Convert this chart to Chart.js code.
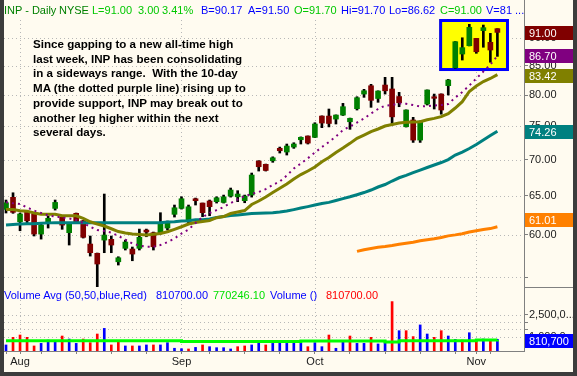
<!DOCTYPE html>
<html>
<head>
<meta charset="utf-8">
<script src="https://cdn.jsdelivr.net/npm/chart.js@4.4.0/dist/chart.umd.min.js"></script>
<style>
  html, body { margin: 0; padding: 0; background: #3c3c3c; }
  #wrap { position: relative; width: 577px; height: 376px; overflow: hidden; }
  #c { position: absolute; left: 0; top: 0; }
  .t { position: absolute; font-family: "Liberation Sans", Arial, sans-serif; font-size: 11px; line-height: 13px; white-space: pre; }
  #note { position: absolute; left: 33px; top: 37px; font: bold 11.6px "Liberation Sans", Arial, sans-serif; line-height: 14.7px; color: #000; white-space: pre; }
  .dg { color: #008000; } .lg { color: #00c800; } .bl { color: #0000ff; } .rd { color: #ff0000; } .gr { color: #00e000; }
</style>
</head>
<body>
<div id="wrap">
  <canvas id="c" width="577" height="376"></canvas>
  <!-- header line -->
  <span class="t dg" style="left:4px;top:4px">INP - Daily</span>
  <span class="t dg" style="left:59px;top:4px">NYSE</span>
  <span class="t lg" style="left:92px;top:4px">L=91.00</span>
  <span class="t lg" style="left:138px;top:4px">3.00</span>
  <span class="t lg" style="left:162px;top:4px">3.41%</span>
  <span class="t bl" style="left:201px;top:4px">B=90.17</span>
  <span class="t bl" style="left:248px;top:4px">A=91.50</span>
  <span class="t lg" style="left:294px;top:4px">O=91.70</span>
  <span class="t bl" style="left:341px;top:4px">Hi=91.70</span>
  <span class="t bl" style="left:389px;top:4px">Lo=86.62</span>
  <span class="t lg" style="left:440px;top:4px">C=91.00</span>
  <span class="t bl" style="left:486px;top:4px">V=81 ...</span>
  <!-- comment text -->
  <div id="note">Since gapping to a new all-time high
last week, INP has been consolidating
in a sideways range.  With the 10-day
MA (the dotted purple line) rising up to
provide support, INP may break out to
another leg higher within the next
several days.</div>
  <!-- volume legend -->
  <span class="t bl" style="left:4px;top:289px">Volume Avg (50,50,blue,Red)</span>
  <span class="t bl" style="left:156px;top:289px">810700.00</span>
  <span class="t gr" style="left:213px;top:289px">770246.10</span>
  <span class="t bl" style="left:270px;top:289px">Volume ()</span>
  <span class="t rd" style="left:326px;top:289px">810700.00</span>
</div>
<script>
// daily bars, 30 Jul .. 6 Nov
const opens  = [63.23,64.82,61.64,62.92,62.63,60.10,61.44,63.36,62.21,60.27,62.72,61.77,58.88,57.77,59.36,59.45,56.77,58.36,58.28,58.36,
                60.60,60.27,60.27,60.85,62.59,63.36,61.64,64.63,64.06,64.33,64.24,64.14,64.99,64.89,64.37,65.12,69.84,69.37,69.88,71.69,
                71.15,71.88,72.97,73.53,73.33,76.61,76.61,76.14,76.77,75.72,77.78,80.16,81.54,79.43,81.66,81.00,79.75,74.95,75.99,72.92,
                78.53,79.72,80.16,81.55,84.62,87.04,88.54,89.89,91.33,89.16,91.70];
const highs  = [64.46,65.43,62.76,62.92,62.76,61.48,62.37,64.46,62.24,61.40,62.76,61.80,59.86,57.80,65.26,59.86,57.36,59.36,58.52,60.72,
                60.72,60.35,62.80,61.73,63.80,64.89,63.80,64.72,64.06,64.46,64.89,65.12,66.07,65.71,65.12,68.14,69.90,69.41,70.45,71.88,
                72.33,72.52,73.40,73.55,75.57,76.65,77.73,76.80,78.64,76.30,79.72,80.94,81.78,80.70,82.97,82.97,80.44,77.60,76.41,75.85,
                80.85,80.16,80.20,82.62,89.30,90.00,92.52,89.90,92.39,90.82,91.70];
const lows   = [62.76,62.72,60.51,61.44,59.86,59.48,60.85,63.14,60.69,58.76,61.60,59.61,57.44,53.93,57.84,57.84,56.39,58.16,56.89,58.16,
                59.77,58.16,60.10,60.60,62.24,63.27,61.48,63.80,62.28,62.41,64.06,64.06,64.85,64.24,64.10,64.85,68.42,68.42,69.66,71.00,
                70.71,71.69,72.33,72.33,73.30,74.80,74.92,75.37,76.70,74.55,77.57,79.62,78.00,78.81,80.16,75.21,78.10,74.90,72.57,72.57,
                78.37,77.73,76.90,80.00,84.50,85.97,88.50,87.17,88.26,85.58,86.62];
const closes = [64.10,62.85,62.63,61.77,60.10,61.22,62.08,64.14,61.22,61.35,61.64,59.70,57.84,56.51,59.98,58.76,57.24,59.12,57.68,59.70,
                60.35,58.55,61.48,61.50,63.44,64.63,63.57,64.37,62.80,63.58,64.76,64.89,65.80,65.26,64.99,67.86,69.03,68.50,70.31,71.34,
                72.03,72.33,73.33,72.47,75.37,75.52,75.45,76.77,78.10,76.25,79.56,80.71,79.13,80.66,80.70,76.49,78.74,77.57,72.92,75.83,
                80.83,79.46,77.57,82.51,89.27,88.19,91.96,87.45,91.89,87.76,91.00];
// volume, thousands of shares
const volume = [420,950,1110,950,350,530,760,650,1040,830,530,830,580,1180,1570,420,650,350,350,350,
                420,420,420,580,190,160,140,250,420,300,230,230,140,300,350,420,600,420,530,690,
                530,580,530,300,580,300,1110,190,650,1040,530,530,950,490,690,3430,1410,1410,1000,1810,
                1180,950,1410,1040,810,760,1270,650,830,790,810.7];
const volAvg = [720,720,720,720,720,720,720,720,720,720,720,720,720,720,720,720,720,720,720,720,
                720,720,720,720,720,660,660,660,660,660,660,660,660,660,660,660,660,660,660,660,
                660,660,700,700,700,700,690,690,690,690,690,690,690,690,630,630,720,720,720,720,
                720,720,720,720,720,720,720,770,770,770,770.25];
// moving averages
const ma10 = [64.16,64.03,63.93,63.48,63.08,62.76,62.46,62.31,62.18,62.05,61.86,61.48,61.01,60.60,60.47,60.29,59.86,59.42,58.94,58.70,
              58.55,58.55,58.76,59.12,59.55,60.17,60.66,61.48,62.24,62.76,63.14,63.54,64.06,64.53,64.99,65.26,65.53,65.93,66.48,66.96,
              67.79,68.77,69.48,70.24,71.07,71.88,72.63,73.46,74.44,75.00,75.60,76.22,77.01,77.73,78.27,78.37,78.61,78.58,78.37,78.13,
              78.21,78.29,78.37,78.53,79.59,80.50,81.58,82.77,83.96,85.18,86.70];
const ma20 = [63.20,63.20,63.05,63.00,62.76,62.60,62.60,62.60,62.40,62.40,62.40,62.08,61.64,61.35,61.10,60.76,60.41,60.23,60.10,60.04,
              59.98,60.07,60.17,60.39,60.69,61.01,61.35,61.54,61.67,61.80,62.16,62.31,62.69,62.89,63.08,63.87,64.33,64.86,65.46,66.03,
              66.62,67.30,67.93,68.42,68.99,69.74,70.34,71.07,71.73,72.43,73.18,73.68,74.21,74.60,75.06,75.29,75.52,75.63,75.68,75.72,
              76.04,76.25,76.53,77.00,77.89,78.92,80.58,81.49,82.25,82.77,83.42];
const ma50 = [61.22,61.28,61.35,61.40,61.40,61.45,61.50,61.51,61.51,61.51,61.51,61.51,61.51,61.51,61.51,61.51,61.51,61.51,61.51,61.51,
              61.51,61.51,61.51,61.60,61.64,61.73,61.77,61.89,61.90,61.99,62.18,62.31,62.44,62.50,62.60,62.69,62.72,62.76,62.80,62.89,
              63.01,63.20,63.40,63.59,63.80,64.00,64.15,64.39,64.65,64.89,65.17,65.46,65.80,66.21,66.55,67.03,67.48,67.82,68.19,68.56,
              68.92,69.27,69.63,70.05,70.71,71.15,71.66,72.25,72.92,73.60,74.26];
const ma200 = [null,null,null,null,null,null,null,null,null,null,null,null,null,null,null,null,null,null,null,null,
               null,null,null,null,null,null,null,null,null,null,null,null,null,null,null,null,null,null,null,null,
               null,null,null,null,null,null,null,null,null,null,58.00,58.20,58.35,58.48,58.58,58.70,58.85,58.98,59.10,59.29,
               59.40,59.52,59.67,59.88,60.00,60.15,60.35,60.51,60.66,60.78,61.01];
const months = ['Aug', 'Sep', 'Oct', 'Nov'];
const monthStart = [2, 25, 44, 67];
const weekStart = [0, 5, 10, 15, 20, 25, 29, 34, 39, 44, 49, 54, 59, 64, 69];
const priceTicks = [55, 60, 65, 70, 75, 80, 85, 90];
const volTicks = [1000000, 1500000, 2000000, 2500000];

const idx = closes.map((c, i) => i);
const candleCol = closes.map((c, i) => c >= opens[i] ? '#008000' : '#800000');
const volCol = closes.map((c, i) => (i === 0 || c >= closes[i - 1]) ? '#0000ff' : '#ff0000');
const pts = arr => arr.map((v, i) => ({ x: i, y: v }));

const FONT = '"Liberation Sans", Arial, sans-serif';

const deco = {
  id: 'deco',
  beforeDraw(chart) {
    const c = chart.ctx;
    c.save();
    c.fillStyle = '#3c3c3c';
    c.fillRect(0, 0, 577, 376);
    c.fillStyle = '#fffbf0';
    c.fillRect(4, 0, 569, 372);
    c.restore();
  },
  beforeDatasetsDraw(chart) {
    const { ctx, chartArea, scales } = chart;
    const x = scales.x, yp = scales.y, yv = scales.yv;
    ctx.save();
    ctx.strokeStyle = '#b8b8b8';
    ctx.lineWidth = 1;
    ctx.setLineDash([1, 3]);
    const hline = y => {
      ctx.beginPath(); ctx.moveTo(chartArea.left, y); ctx.lineTo(chartArea.right, y); ctx.stroke();
    };
    priceTicks.forEach(v => hline(Math.round(yp.getPixelForValue(v)) + 0.5));
    volTicks.forEach(v => hline(Math.round(yv.getPixelForValue(v)) + 0.5));
    monthStart.forEach(i => {
      const px = Math.round(x.getPixelForValue(i)) + 0.5;
      ctx.beginPath(); ctx.moveTo(px, chartArea.top); ctx.lineTo(px, chartArea.bottom); ctx.stroke();
    });
    ctx.setLineDash([]);
    // highlight box around the last bars
    const l = x.getPixelForValue(61.7), r = x.getPixelForValue(71.65);
    const t = chartArea.top - 1, b = yp.getPixelForValue(84.05);
    ctx.fillStyle = '#ffff00';
    ctx.fillRect(l, t, r - l, b - t);
    ctx.strokeStyle = '#0000ff';
    ctx.lineWidth = 3;
    ctx.strokeRect(l + 1.5, t + 1.5, r - l - 3, b - t - 3);
    ctx.restore();
  },
  afterDraw(chart) {
    const { ctx, chartArea, scales } = chart;
    const last = closes.length - 1;
    const tags = [
      { v: closes[last], s: scales.y, bg: '#800000', txt: closes[last].toFixed(2), dy: 1 },
      { v: ma10[last], s: scales.y, bg: '#800080', txt: ma10[last].toFixed(2), dy: 0 },
      { v: ma20[last], s: scales.y, bg: '#808000', txt: ma20[last].toFixed(2), dy: 1 },
      { v: ma50[last], s: scales.y, bg: '#008080', txt: ma50[last].toFixed(2), dy: 1 },
      { v: ma200[last], s: scales.y, bg: '#ff8000', txt: ma200[last].toFixed(2), dy: -7 },
      { v: volume[last] * 1000, s: scales.yv, bg: '#0000ff', txt: Math.round(volume[last] * 1000).toLocaleString('en-US'), dy: 2 }
    ];
    ctx.save();
    // axis column lines
    ctx.strokeStyle = '#808080';
    ctx.lineWidth = 1;
    ctx.beginPath();
    ctx.moveTo(chartArea.right + 0.5, 0); ctx.lineTo(chartArea.right + 0.5, chartArea.top);
    const sep = Math.round(scales.yv.top) + 0.5;
    ctx.moveTo(chartArea.right, sep); ctx.lineTo(573, sep);
    ctx.stroke();
    ctx.font = '11px ' + FONT;
    ctx.textBaseline = 'middle';
    tags.forEach(g => {
      const py = Math.round(g.s.getPixelForValue(g.v)) + g.dy;
      ctx.fillStyle = g.bg;
      ctx.fillRect(chartArea.right + 1, py - 7, 48, 14);
      ctx.fillStyle = '#ffffff';
      ctx.fillText(g.txt, chartArea.right + 5, py + 0.5);
    });
    ctx.restore();
  }
};

new Chart(document.getElementById('c'), {
  type: 'bar',
  data: {
    datasets: [
      { type: 'line', data: pts(ma10), xAxisID: 'x', yAxisID: 'y', borderColor: '#800080', borderWidth: 2,
        borderDash: [2, 4], pointRadius: 0, order: 1 },
      { type: 'line', data: pts(ma20), xAxisID: 'x', yAxisID: 'y', borderColor: '#808000', borderWidth: 3,
        pointRadius: 0, order: 1 },
      { type: 'line', data: pts(ma50), xAxisID: 'x', yAxisID: 'y', borderColor: '#008080', borderWidth: 3,
        pointRadius: 0, order: 1 },
      { type: 'line', data: pts(ma200), xAxisID: 'x', yAxisID: 'y', borderColor: '#ff8000', borderWidth: 3,
        pointRadius: 0, order: 1 },
      { data: idx.map(i => ({ x: i, y: [opens[i], closes[i]] })), xAxisID: 'x', yAxisID: 'y',
        backgroundColor: candleCol, barThickness: 5, grouped: false, minBarLength: 1, order: 2 },
      { data: idx.map(i => ({ x: i, y: [lows[i], highs[i]] })), xAxisID: 'x', yAxisID: 'y',
        backgroundColor: '#000000', barThickness: 2, grouped: false, order: 3 },
      { type: 'line', data: pts(volAvg.map(v => v * 1000)), xAxisID: 'x', yAxisID: 'yv', borderColor: '#00ff00',
        borderWidth: 3, pointRadius: 0, stepped: true, order: 1 },
      { data: pts(volume.map(v => v * 1000)), xAxisID: 'x', yAxisID: 'yv',
        backgroundColor: volCol, barThickness: 2, grouped: false, order: 2 }
    ]
  },
  options: {
    responsive: false,
    animation: false,
    devicePixelRatio: 1,
    events: [],
    layout: { padding: { left: 4, top: 20, right: 4, bottom: 4 } },
    plugins: { legend: { display: false }, tooltip: { enabled: false } },
    scales: {
      x: {
        type: 'linear', position: 'bottom', min: -0.285, max: 73.79, bounds: 'data', offset: false,
        afterBuildTicks: s => { s.ticks = [...new Set([...weekStart, ...monthStart])].sort((a, b) => a - b).map(v => ({ value: v })); },
        afterFit: s => { s.height = 21; },
        ticks: {
          autoSkip: false, maxRotation: 0, padding: 1, color: '#202020', font: { size: 11, family: FONT },
          callback: v => { const k = monthStart.indexOf(v); return k >= 0 ? months[k] : ''; }
        },
        grid: { drawOnChartArea: false, offset: false, tickLength: 3, tickColor: '#808080' },
        border: { color: '#808080' }
      },
      y: {
        type: 'logarithmic', position: 'right', stack: 'panes', stackWeight: 267,
        min: 53.9, max: 93.35, bounds: 'data',
        afterBuildTicks: s => { s.ticks = priceTicks.map(v => ({ value: v })); },
        afterFit: s => { s.width = 49; },
        ticks: {
          autoSkip: false, padding: 1, color: '#202020', font: { size: 11, family: FONT },
          callback: v => v === 55 ? '' : Number(v).toFixed(2)
        },
        grid: { drawOnChartArea: false, tickLength: 4, tickColor: '#808080' },
        border: { color: '#808080' }
      },
      yv: {
        type: 'linear', position: 'right', stack: 'panes', stackWeight: 64,
        min: 0, max: 4444000, bounds: 'data',
        afterBuildTicks: s => { s.ticks = volTicks.map(v => ({ value: v })); },
        afterFit: s => { s.width = 49; },
        ticks: {
          autoSkip: false, padding: 1, color: '#202020', font: { size: 11, family: FONT },
          callback: v => (v === 2500000 || v === 1000000) ? Number(v).toLocaleString('en-US').slice(0, 7) + '...' : ''
        },
        grid: { drawOnChartArea: false, tickLength: 4, tickColor: '#808080' },
        border: { color: '#808080' }
      }
    }
  },
  plugins: [deco]
});
</script>
</body>
</html>
